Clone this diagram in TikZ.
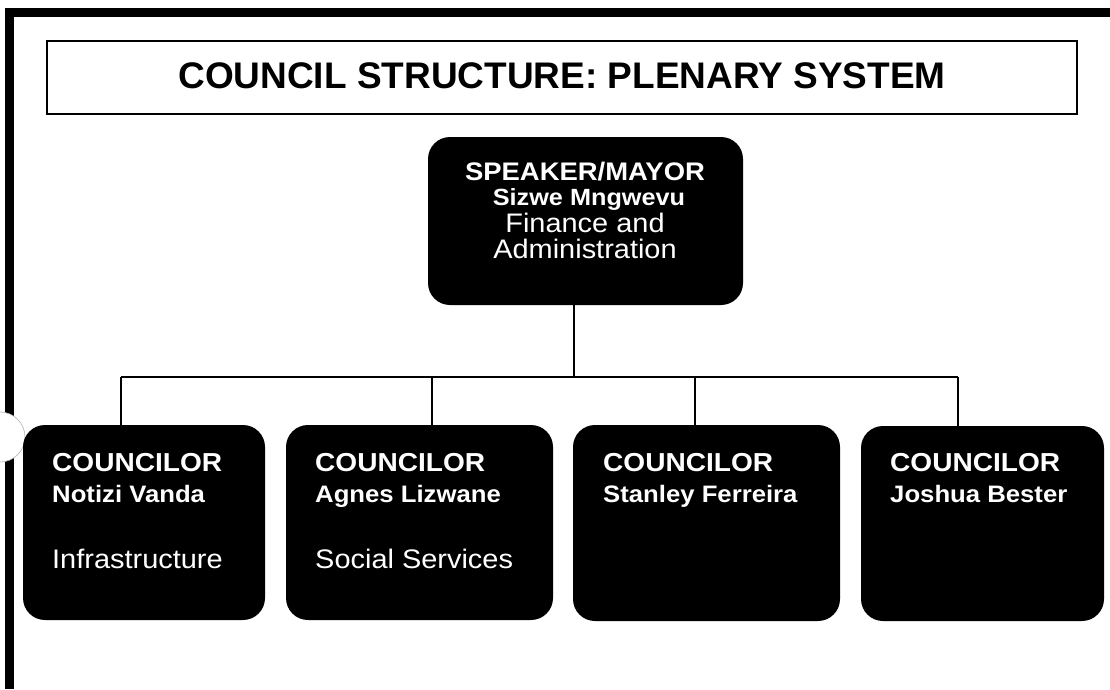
\documentclass[tikz,border=0pt]{standalone}
\usepackage{fontspec}
\setmainfont{Liberation Sans}
\newfontfamily\boxfont{Liberation Sans}[FakeStretch=1.08]
\begin{document}
\begin{tikzpicture}[x=1pt,y=-1pt,
  orgbox/.style={fill=black, draw=none, rounded corners=22pt, inner sep=0pt},
  wire/.style={line width=1.3pt, black},
  head/.style={text=white, inner sep=0pt, font=\boxfont\bfseries\fontsize{26}{28}\selectfont},
  who/.style={text=white, inner sep=0pt, font=\boxfont\bfseries\fontsize{23.8}{26}\selectfont},
  duty/.style={text=white, inner sep=0pt, font=\boxfont\fontsize{26.8}{29}\selectfont},
]
\useasboundingbox (0,0) rectangle (1110,689);

% page frame: heavy rule along the top and the left side
\fill[black] (5,8) rectangle (1110,17);
\fill[black] (5,8) rectangle (14,689);
% punched hole on the left margin
\fill[white] (0,437) circle (25);
\draw[gray!60, line width=0.6pt] (0,437) circle (25);

% title banner
\node[draw, line width=2pt, minimum width=1030pt, minimum height=73pt, inner sep=0pt] (title) at (562,77.5) {};
\node[anchor=base, inner sep=0pt, font=\bfseries\fontsize{37}{40}\selectfont] (titletext) at (562,88) {COUNCIL STRUCTURE: PLENARY SYSTEM};

% speaker / mayor
\node[orgbox, minimum width=315pt, minimum height=168pt] (mayor) at (585.5,221) {};
\node[head, anchor=base, font=\boxfont\bfseries\fontsize{25.4}{28}\selectfont] (m1) at (585,180) {SPEAKER/MAYOR};
\node[who, anchor=base, font=\boxfont\bfseries\fontsize{23.4}{26}\selectfont] (m2) at (589,205) {Sizwe Mngwevu};
\node[duty, anchor=base] (m3) at (585,232) {Finance and};
\node[duty, anchor=base] (m4) at (585,258) {Administration};

% councilors
\node[orgbox, minimum width=242pt, minimum height=195pt] (c1) at (144,522.5) {};
\node[orgbox, minimum width=267pt, minimum height=195pt] (c2) at (419.5,522.5) {};
\node[orgbox, minimum width=267pt, minimum height=196pt] (c3) at (706.5,523) {};
\node[orgbox, minimum width=243pt, minimum height=195pt] (c4) at (982.5,523.5) {};

\node[head, anchor=base west] (c1a) at (52,471) {COUNCILOR};
\node[who, anchor=base west] (c1b) at (52,502) {Notizi Vanda};
\node[duty, anchor=base west] (c1c) at (52,568) {Infrastructure};

\node[head, anchor=base west] (c2a) at (315,471) {COUNCILOR};
\node[who, anchor=base west] (c2b) at (315,502) {Agnes Lizwane};
\node[duty, anchor=base west] (c2c) at (315,568) {Social Services};

\node[head, anchor=base west] (c3a) at (603,471) {COUNCILOR};
\node[who, anchor=base west] (c3b) at (603,502) {Stanley Ferreira};

\node[head, anchor=base west] (c4a) at (890,471) {COUNCILOR};
\node[who, anchor=base west] (c4b) at (890,502) {Joshua Bester};

% connectors
\coordinate (hub) at (574,377);
\coordinate (d1) at (121,377);
\coordinate (d2) at (432,377);
\coordinate (d3) at (695,377);
\coordinate (d4) at (958,377);
\draw[wire] (mayor.south -| hub) -- (hub);
\draw[wire] (d1) -- (d4);
\draw[wire] (d1) -- (d1 |- c1.north);
\draw[wire] (d2) -- (d2 |- c2.north);
\draw[wire] (d3) -- (d3 |- c3.north);
\draw[wire] (d4) -- (d4 |- c4.north);
\end{tikzpicture}
\end{document}
